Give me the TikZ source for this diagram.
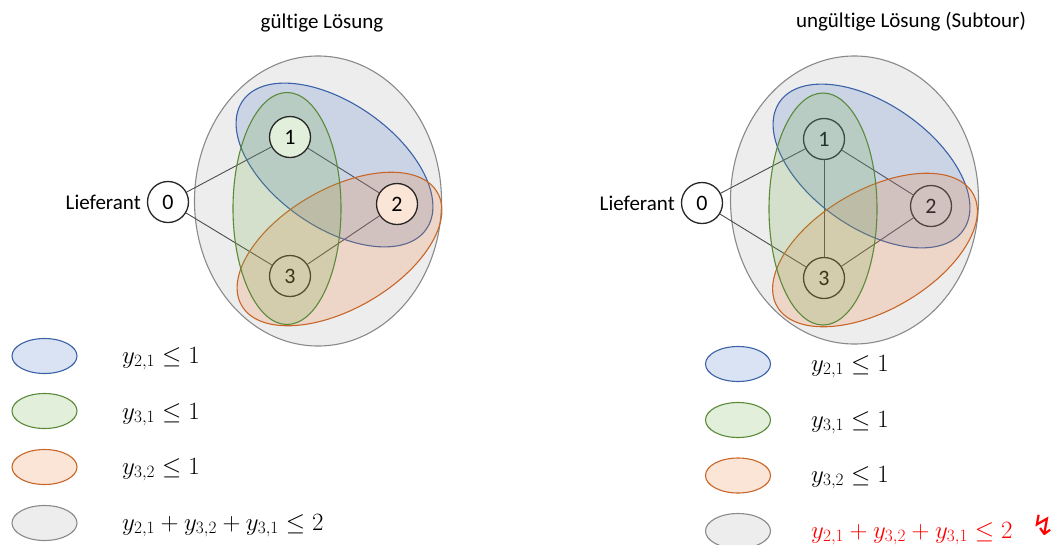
\documentclass[tikz,border=0pt]{standalone}
\usepackage{fontspec}
\setmainfont[RawFeature=-liga]{Carlito}
\newfontfamily\symfont{DejaVu Sans}
\definecolor{cblue}{HTML}{4472C4}
\definecolor{cgreen}{HTML}{70AD47}
\definecolor{corange}{HTML}{ED7D31}
\definecolor{dblue}{HTML}{3B62A8}
\definecolor{dgreen}{HTML}{5A8A3A}
\definecolor{dorange}{HTML}{C8662A}
\definecolor{lgray}{HTML}{EDEDED}
\definecolor{dgray}{HTML}{8A8A8A}
\definecolor{cred}{HTML}{FF0000}
\pgfdeclarelayer{low}
\pgfdeclarelayer{ell}
\pgfsetlayers{low,ell,main}
\begin{document}
\begin{tikzpicture}[x=1pt,y=1pt,
  txt/.style={font=\fontsize{21}{24}\selectfont, inner sep=0pt},
  mth/.style={font=\fontsize{23}{26}\selectfont, inner sep=0pt, anchor=base west},
  pnode/.style={circle, draw=black!85, line width=1.3pt, minimum size=41pt, inner sep=0pt, font=\fontsize{22}{24}\selectfont},
  edge/.style={draw=black!70, line width=0.9pt},
  grayell/.style={fill=lgray, draw=dgray, line width=1.1pt},
  blueell/.style={fill=cblue, fill opacity=0.2, draw=dblue, draw opacity=1, line width=1.1pt},
  greenell/.style={fill=cgreen, fill opacity=0.2, draw=dgreen, draw opacity=1, line width=1.1pt},
  orangeell/.style={fill=corange, fill opacity=0.2, draw=dorange, draw opacity=1, line width=1.1pt}]
\useasboundingbox (0,0) rectangle (1056,-544);

% ---------- left diagram ----------
\node[txt, anchor=base] (t1) at (322,-28) {gültige Lösung};
\begin{pgfonlayer}{low}
  \draw[grayell] (318,-201) ellipse [x radius=123.5, y radius=145];
  \node[pnode] (L3) at (290,-276) {3};
\end{pgfonlayer}
\node[pnode, fill=white] (L0) at (168,-202) {0};
\node[pnode, fill=cgreen!20] (L1) at (290,-137) {1};
\node[pnode, fill=corange!20] (L2) at (397,-204) {2};
\node[txt, anchor=base east] (lief1) at (141,-209) {Lieferant};
\begin{pgfonlayer}{low}
  \draw[edge] (L0) -- (L1);
  \draw[edge] (L0) -- (L3);
  \draw[edge] (L1) -- (L2);
  \draw[edge] (L2) -- (L3);
\end{pgfonlayer}
\begin{pgfonlayer}{ell}
  \draw[blueell, rotate around={-35:(334.5,-165)}] (334.5,-165) ellipse [x radius=112, y radius=62];
  \draw[orangeell, rotate around={30:(339.5,-249)}] (339.5,-249) ellipse [x radius=113, y radius=60];
  \draw[greenell] (287,-208.5) ellipse [x radius=54, y radius=116];
\end{pgfonlayer}

% ---------- right diagram ----------
\node[txt, anchor=base] (t2) at (911,-27) {ungültige Lösung (Subtour)};
\begin{scope}[shift={(536,-1)}]
\begin{pgfonlayer}{low}
  \draw[grayell] (318.5,-199) ellipse [x radius=124, y radius=144];
  \node[pnode] (R1) at (288,-138) {1};
  \node[pnode] (R2) at (395,-205) {2};
  \node[pnode] (R3) at (288,-277) {3};
\end{pgfonlayer}
\node[pnode, fill=white] (R0) at (166,-202) {0};
\node[txt, anchor=base east] (lief2) at (139,-209) {Lieferant};
\begin{pgfonlayer}{low}
  \draw[edge] (R0) -- (R1);
  \draw[edge] (R0) -- (R3);
  \draw[edge] (R1) -- (R2);
  \draw[edge] (R2) -- (R3);
  \draw[edge] (R1) -- (R3);
\end{pgfonlayer}
\begin{pgfonlayer}{ell}
  \draw[blueell, rotate around={-35:(335.5,-165)}] (335.5,-165) ellipse [x radius=112, y radius=62];
  \draw[orangeell, rotate around={30:(339,-249)}] (339,-249) ellipse [x radius=113, y radius=60];
  \draw[greenell] (287,-208) ellipse [x radius=54, y radius=116];
\end{pgfonlayer}
\end{scope}

% ---------- left legend ----------
\draw[blueell]   (44.5,-356) ellipse [x radius=32.5, y radius=17.5];
\draw[greenell]  (44.5,-411) ellipse [x radius=32.5, y radius=17.5];
\draw[orangeell] (44.5,-467) ellipse [x radius=32.5, y radius=17.5];
\draw[grayell]   (44.5,-523) ellipse [x radius=32.5, y radius=17.5];
\node[mth] (la) at (122,-363) {$y_{2,1}\leq 1$};
\node[mth] (lb) at (122,-419) {$y_{3,1}\leq 1$};
\node[mth] (lc) at (122,-474) {$y_{3,2}\leq 1$};
\node[mth] (ld) at (122,-530) {$y_{2,1}+y_{3,2}+y_{3,1}\leq 2$};

% ---------- right legend ----------
\draw[blueell]   (738,-364) ellipse [x radius=32.5, y radius=17.5];
\draw[greenell]  (738,-420) ellipse [x radius=32.5, y radius=17.5];
\draw[orangeell] (738,-475.5) ellipse [x radius=32.5, y radius=17.5];
\draw[grayell]   (738,-531) ellipse [x radius=32.5, y radius=17.5];
\node[mth] (ra) at (811,-371) {$y_{2,1}\leq 1$};
\node[mth] (rb) at (811,-427) {$y_{3,1}\leq 1$};
\node[mth] (rc) at (811,-482) {$y_{3,2}\leq 1$};
\node[mth, text=cred] (rd) at (811,-538) {$y_{2,1}+y_{3,2}+y_{3,1}\leq 2$};
\node[inner sep=0pt, text=cred, font=\symfont\fontsize{28}{30}\selectfont] (bolt) at (1043,-525) {↯};
\end{tikzpicture}
\end{document}
